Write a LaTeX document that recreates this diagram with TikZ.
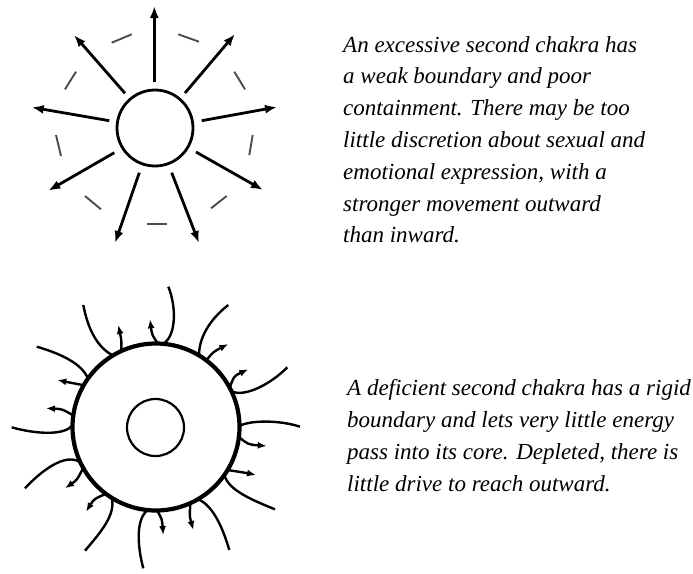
\documentclass[tikz,border=0pt]{standalone}
\usepackage{fontspec}
\setmainfont{Liberation Serif}
\usetikzlibrary{arrows.meta}
\tikzset{
  bigarrow/.style={line width=2.8pt,-{Latex[length=12pt,width=9pt]}},
  dashmark/.style={line width=1.9pt,black!70},
  ray/.style={line width=2.4pt},
  smallarrow/.style={line width=2.4pt,-{Latex[length=9pt,width=7pt]}},
  txt/.style={inner sep=0pt,anchor=north west,align=left,font=\fontsize{23}{31.8}\selectfont\itshape}
}
\begin{document}
\begin{tikzpicture}[x=1pt,y=-1pt]
\useasboundingbox[fill=white] (0,0) rectangle (693,573);
% ---------- top: excessive ----------
\node[circle,draw,line width=2.8pt,minimum size=76pt,inner sep=0pt] (core1) at (155,128) {};
\draw[bigarrow] (154.3,81.7) -- (154.3,6);
\draw[bigarrow] (185,93) -- (235,34);
\draw[bigarrow] (201.7,120.7) -- (277,107);
\draw[bigarrow] (196,152) -- (263,190);
\draw[bigarrow] (171.7,172.7) -- (199,243);
\draw[bigarrow] (139.3,172.7) -- (115,243);
\draw[bigarrow] (114.3,152.7) -- (48.3,190.7);
\draw[bigarrow] (109.3,120.7) -- (31.7,107.3);
\draw[bigarrow] (125,93.3) -- (74,35);
% dashed boundary
\draw[dashmark] (111.7,42.7) -- (131.7,34.3);
\draw[dashmark] (178.3,34.3) -- (199,41.7);
\draw[dashmark] (234.3,71.7) -- (245,89.3);
\draw[dashmark] (252.7,135) -- (249.3,155);
\draw[dashmark] (226.7,196) -- (211,208.3);
\draw[dashmark] (146.7,224.3) -- (166.7,224.3);
\draw[dashmark] (85,196) -- (101,209.3);
\draw[dashmark] (56,135) -- (61,156);
\draw[dashmark] (76,71.7) -- (65,89.3);
\node[txt] (text1) at (343,36) {An excessive second chakra has\\a weak boundary and poor\\containment. There may be too\\little discretion about sexual and\\emotional expression, with a\\stronger movement outward\\than inward.};
% ---------- bottom: deficient ----------
\node[circle,draw,line width=4.2pt,minimum size=167pt,inner sep=0pt] (rim) at (156,427) {};
\node[circle,draw,line width=2.2pt,minimum size=57pt,inner sep=0pt] (core2) at (155.5,427.5) {};
% incoming curves
\draw[ray] (36.7,346.7) .. controls (62,354) and (82,364) .. (88,378.5);
\draw[ray] (83.3,305) .. controls (88,330) and (98,348) .. (113,355.4);
\draw[ray] (168.3,286.7) .. controls (176,305) and (177,335) .. (163.3,343.8);
\draw[ray] (228.3,305) .. controls (214,316) and (199,334) .. (199,355.4);
\draw[ray] (287.3,367.3) .. controls (272,383) and (245,398) .. (231.4,391.2);
\draw[ray] (300,426.7) .. controls (280,420) and (250,420) .. (239.5,426);
\draw[ray] (275,509.3) .. controls (252,500) and (228,490) .. (224.4,474.9);
\draw[ray] (229.3,550) .. controls (222,525) and (212,505) .. (198,499.2);
\draw[ray] (143.3,568.3) .. controls (137,545) and (136,518) .. (148,510);
\draw[ray] (85,550.7) .. controls (100,533) and (116,515) .. (111.8,497.8);
\draw[ray] (25,488.3) .. controls (40,472) and (65,452) .. (80.3,462.3);
\draw[ray] (11.7,427.3) .. controls (35,434) and (65,436) .. (72.5,425);
% outgoing short arrows
\draw[smallarrow] (121.3,351.1) .. controls (121.5,340) .. (118.3,325);
\draw[smallarrow] (158,343.5) .. controls (152,335) .. (150,319.3);
\draw[smallarrow] (206.3,360.4) .. controls (213,352) .. (228.3,344);
\draw[smallarrow] (229.7,387.8) .. controls (234,376) .. (248.3,369.3);
\draw[smallarrow] (239,437) .. controls (248,444.5) .. (266.7,446);
\draw[smallarrow] (227.6,470) .. controls (238,471) .. (256,475);
\draw[smallarrow] (190.4,503.1) .. controls (189.5,516) .. (193.3,530);
\draw[smallarrow] (157,510.5) .. controls (162,519) .. (163.3,535);
\draw[smallarrow] (105.9,493.8) .. controls (94,499) .. (86,511.7);
\draw[smallarrow] (83.2,467.9) .. controls (77,480) .. (65,488.3);
\draw[smallarrow] (73.3,415.4) .. controls (62,409) .. (46,408.3);
\draw[smallarrow] (83.7,385.2) .. controls (72,383) .. (57.3,380);
\node[txt] (text2) at (347,379.5) {A deficient second chakra has a rigid\\boundary and lets very little energy\\pass into its core. Depleted, there is\\little drive to reach outward.};
\end{tikzpicture}
\end{document}
